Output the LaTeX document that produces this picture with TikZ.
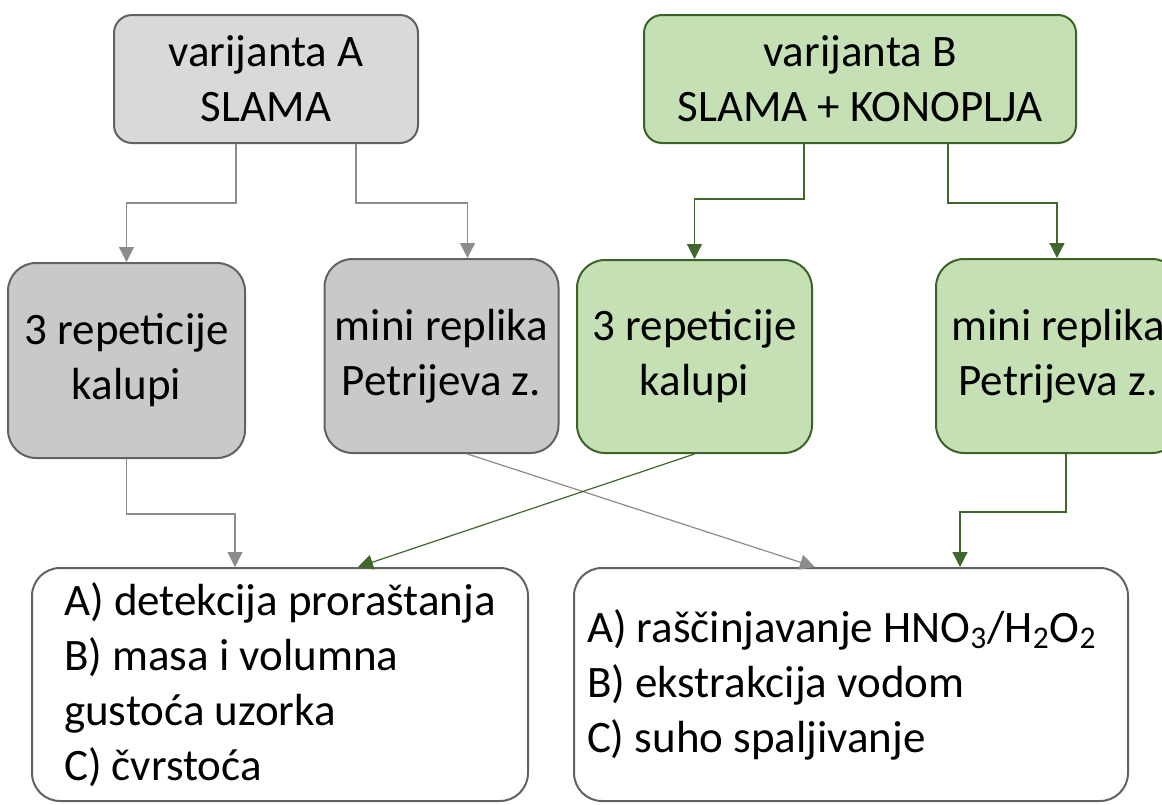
\documentclass[tikz,border=0pt]{standalone}
\usepackage{fontspec}
\setmainfont{Carlito}
\usetikzlibrary{arrows.meta,calc}

\definecolor{topgray}{HTML}{D9D9D9}
\definecolor{midgray}{HTML}{C9C9C9}
\definecolor{grayline}{HTML}{626262}
\definecolor{lightgreen}{HTML}{C5E0B4}
\definecolor{darkgreen}{HTML}{3B6327}
\definecolor{conngray}{HTML}{8C8C8C}
\definecolor{conngreen}{HTML}{3F662C}

\begin{document}
\begin{tikzpicture}[x=.5pt,y=-.5pt,font=\fontsize{22.5}{27.5}\selectfont]

        \useasboundingbox (0,0) rectangle (1162,804);

        \begin{scope}[every node/.style={draw, line width=1pt, rounded corners=14pt, align=center, inner sep=0pt}]
          \node[fill=topgray, draw=grayline, rounded corners=9pt, minimum width=152pt, minimum height=64pt] (a) at (266,79) {varijanta A\\SLAMA};
          \node[fill=lightgreen, draw=darkgreen, rounded corners=9pt, minimum width=216pt, minimum height=64pt] (b) at (860,79) {varijanta B\\SLAMA + KONOPLJA};

          \node[fill=midgray, draw=grayline, minimum width=118.5pt, minimum height=97.5pt] (a1) at (126.5,360.5) {3 repeticije\\kalupi};
          \node[fill=midgray, draw=grayline, minimum width=117pt, minimum height=97pt] (a2) at (441.5,356) {mini replika\\Petrijeva z.};
          \node[fill=lightgreen, draw=darkgreen, minimum width=117.5pt, minimum height=96.5pt] (b1) at (694.5,356.5) {3 repeticije\\kalupi};
          \node[fill=lightgreen, draw=darkgreen, minimum width=122pt, minimum height=97pt] (b2) at (1058,356) {mini replika\\Petrijeva z.};

          \node[fill=white, draw=grayline, align=left, minimum width=248pt, minimum height=116.5pt] (l) at (280,684.5)
            {A) detekcija proraštanja\\B) masa i volumna\\gustoća uzorka\\C) čvrstoća};
          \node[fill=white, draw=grayline, align=flush left, text width=264pt, inner xsep=6.5pt, minimum height=116.5pt] (r) at (851,684.5)
            {A) raščinjavanje HNO\textsubscript{3}/H\textsubscript{2}O\textsubscript{2}\\B) ekstrakcija vodom\\C) suho spaljivanje};
        \end{scope}

        \begin{scope}[line width=.6pt, -{Triangle[width=7.5pt,length=7.5pt]}]
          \draw[conngray] ($(a.south)+(-30,0)$) -- ++(0,59) -| (a1.north);
          \draw[conngray] ($(a.south)+(90,0)$) -- ++(0,59) -| ($(a2.north)+(26,0)$);
          \draw[conngreen] ($(b.south)+(-56,0)$) -- ++(0,55) -| (b1.north);
          \draw[conngreen] ($(b.south)+(88,0)$) -- ++(0,59) -| ($(b2.north)+(-1,0)$);

          \draw[conngray] (a1.south) -- ++(0,55) -| ($(l.north)+(-45,0)$);
          \draw[conngray] ($(a2.south)+(26,0)$) -- ($(r.north)+(-36,0)$);
          \draw[conngreen] (b1.south) -- ($(l.north)+(78,0)$);
          \draw[conngreen] ($(b2.south)+(8,0)$) -- ++(0,58) -| ($(r.north)+(109,0)$);
        \end{scope}

      \end{tikzpicture}
\end{document}
